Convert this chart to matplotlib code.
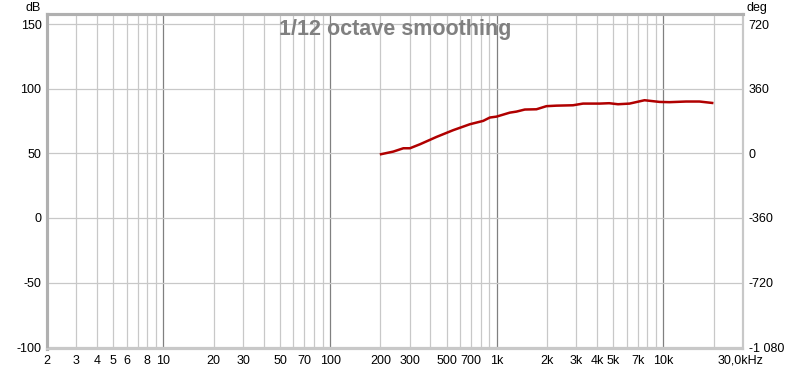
import matplotlib
matplotlib.use("Agg")
import matplotlib.pyplot as plt
import numpy as np

# curve (Hz, dB)
freq = [202, 239, 275, 301, 346, 435, 547, 689, 828, 908, 995, 1197, 1312,
        1472, 1729, 1984, 2276, 2864, 3289, 4141, 4722, 5333, 6259, 7696,
        9465, 10858, 13670, 16440, 19600]
level = [49.4, 51.4, 54.0, 54.0, 57.1, 62.8, 68.0, 72.6, 75.2, 77.8, 78.5,
         81.6, 82.4, 84.0, 84.2, 86.6, 87.0, 87.3, 88.6, 88.6, 88.9, 88.1,
         88.6, 91.2, 89.9, 89.7, 90.2, 90.2, 89.1]

x_ticks = [2, 3, 4, 5, 6, 8, 10, 20, 30, 50, 70, 100, 200, 300, 500, 700,
           1000, 2000, 3000, 4000, 5000, 7000, 10000, 29000]
x_labels = ["2", "3", "4", "5", "6", "8", "10", "20", "30", "50", "70", "100",
            "200", "300", "500", "700", "1k", "2k", "3k", "4k", "5k", "7k",
            "10k", "30,0kHz"]
y_ticks = [150, 100, 50, 0, -50, -100]
deg_labels = ["720", "360", "0", "-360", "-720", "-1 080"]

plt.rcParams['font.family'] = ['Liberation Sans', 'DejaVu Sans']

fig = plt.figure(figsize=(8, 3.7), dpi=100)
ax = fig.add_axes([47 / 800, 21 / 370, 696 / 800, 335 / 370])

xmin, xmax = 2, 30000
ax.set_xscale("log")
ax.set_xlim(xmin, xmax)
ax.set_ylim(-101.5, 158)

# grid: every 1..9 per decade, decades darker
for dec in [1, 10, 100, 1000, 10000]:
    for m in range(1, 10):
        f = dec * m
        if f <= xmin or f >= xmax:
            continue
        if m == 1:
            ax.axvline(f, color="#808080", lw=0.9, zorder=1)
        else:
            ax.axvline(f, color="#c8c8c8", lw=0.9, zorder=1)
for y in y_ticks:
    ax.axhline(y, color="#c8c8c8", lw=0.9, zorder=1)

ax.plot(freq, level, color="#b00000", lw=1.8, zorder=3)

ax.set_xticks(x_ticks)
ax.set_xticklabels(x_labels)
ax.xaxis.set_minor_locator(matplotlib.ticker.NullLocator())
ax.set_yticks(y_ticks)
ax.set_yticklabels([str(v) for v in y_ticks])
ax.tick_params(axis="both", length=0, labelsize=9, pad=4, colors="#000000")

ax2 = ax.twinx()
ax2.set_ylim(ax.get_ylim())
ax2.set_yticks(y_ticks)
ax2.set_yticklabels(deg_labels)
ax2.tick_params(axis="y", length=0, labelsize=9, pad=4)

for a in (ax, ax2):
    for side in ["left", "top"]:
        a.spines[side].set_color("#b0b0b0")
        a.spines[side].set_linewidth(2.2)
    for side in ["right", "bottom"]:
        a.spines[side].set_color("#c8c8c8")
        a.spines[side].set_linewidth(1.5)

fig.text(33 / 800, 1 - 8 / 370, "dB", fontsize=9, ha="center", va="center")
fig.text(757 / 800, 1 - 8 / 370, "deg", fontsize=9, ha="center", va="center")
ax.text(0.5, 0.985, "1/12 octave smoothing", transform=ax.transAxes,
        ha="center", va="top", fontsize=15.5, fontweight="bold", color="#808080",
        zorder=4)

fig.savefig("out.png", dpi=100)
